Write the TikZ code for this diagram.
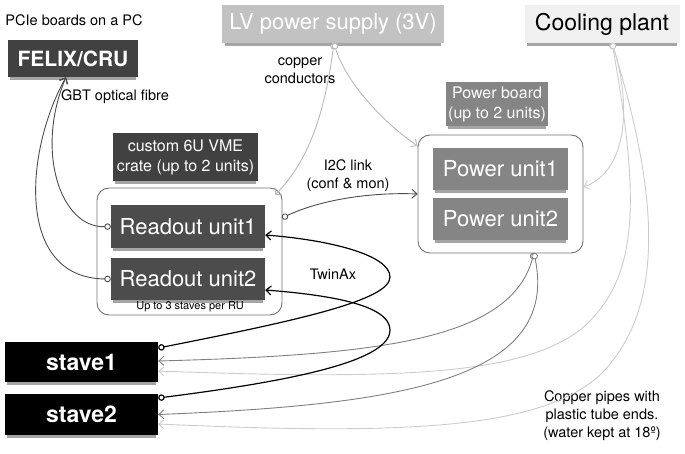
\documentclass[tikz,border=0pt]{standalone}
\usepackage{fontspec}
\setmainfont{TeX Gyre Heros}
\usetikzlibrary{arrows.meta,shadows}
\definecolor{darkbox}{HTML}{414141}
\definecolor{robox}{HTML}{4C4C4C}
\definecolor{midbox}{HTML}{858585}
\definecolor{lvbox}{HTML}{C2C2C2}
\definecolor{coolbox}{HTML}{F0F0F0}
\begin{document}
\begin{tikzpicture}[x=1pt,y=-1pt,line join=round,line cap=round,
	big/.style={font=\fontsize{22}{24}\selectfont},
	mid/.style={font=\fontsize{16}{20}\selectfont,align=center},
	txt/.style={font=\fontsize{14.5}{18}\selectfont,align=center},
	box/.style={rectangle,inner sep=0pt,text=white,drop shadow={shadow xshift=0pt,shadow yshift=-4pt,shadow scale=.97,fill=black!70,opacity=.5}},
	crate/.style={draw=black!55,line width=.9pt,rounded corners=12pt,fill=white,inner sep=0pt},
	link/.style={line width=.9pt,{Circle[open,length=6.5pt,fill=white]}-{Straight Barb[length=5pt,width=9pt]}}]
	\useasboundingbox (0,0) rectangle (685,454);
	% top row
	\node[txt] (pcie) at (74,20) {PCIe boards on a PC};
	\node[box,fill=darkbox,big,font=\bfseries\fontsize{21}{24}\selectfont,minimum width=130pt,minimum height=37pt] (felix) at (73,58.5) {FELIX/CRU};
	\node[txt] (gbt) at (115,97) {GBT optical fibre};
	\node[box,fill=lvbox,big,minimum width=222pt,minimum height=38pt] (lv) at (333,24) {LV power supply (3V)};
	\node[txt] (copper) at (300,71) {copper\\conductors};
	\node[box,fill=coolbox,text=black,font=\fontsize{23}{25}\selectfont,minimum width=155pt,minimum height=38pt] (cool) at (602,24) {Cooling plant};
	% readout crate
	\node[crate,minimum width=185pt,minimum height=127pt] (rocrate) at (189.5,251.5) {};
	\node[box,fill=darkbox,mid,minimum width=145pt,minimum height=48pt] (vme) at (185.5,157) {custom 6U VME\\crate (up to 2 units)};
	\node[box,fill=robox,big,minimum width=154pt,minimum height=43pt] (ru1) at (188,226.5) {Readout unit1};
	\node[box,fill=robox,big,minimum width=154pt,minimum height=42pt] (ru2) at (188,279) {Readout unit2};
	\node[font=\fontsize{11}{13}\selectfont] (rulabel) at (190,307) {Up to 3 staves per RU};
	% power board
	\node[crate,minimum width=165pt,minimum height=118pt] (pwcrate) at (500.5,194) {};
	\node[box,fill=midbox,mid,minimum width=102pt,minimum height=44pt] (pwlabel) at (497,104) {Power board\\(up to 2 units)};
	\node[box,fill=midbox,big,minimum width=135pt,minimum height=42pt] (pu1) at (500.5,169) {Power unit1};
	\node[box,fill=midbox,big,minimum width=135pt,minimum height=42pt] (pu2) at (500.5,219) {Power unit2};
	% staves
	\node[box,fill=black,font=\bfseries\fontsize{23}{25}\selectfont,minimum width=153pt,minimum height=40pt] (stave1) at (81.5,362) {stave1};
	\node[box,fill=black,font=\bfseries\fontsize{23}{25}\selectfont,minimum width=153pt,minimum height=41pt] (stave2) at (81.5,414.5) {stave2};
	\node[txt] (twinax) at (333,274) {TwinAx};
	\node[txt] (i2c) at (348,176) {I2C link\\(conf \& mon)};
	\node[txt] (pipes) at (602,416) {Copper pipes with\\plastic tube ends.\\(water kept at 18º)};
	% connector ends
	\coordinate (i2cout) at (282,218);
	\coordinate (pwout) at (534,253);
	\coordinate (lvout) at (334,43);
	\coordinate (coolout) at (612,43);
	% optical fibres
	\draw[link,draw=black!70] (ru1.west) .. controls (60,228) and (35,150) .. ([xshift=-7pt]felix.south);
	\draw[link,draw=black!70] (ru2.west) .. controls (15,278) and (25,150) .. ([xshift=-7pt]felix.south);
	% i2c
	\draw[link,draw=black!70] (i2cout) .. controls (320,200) and (370,192) .. (pwcrate.west);
	% low voltage
	\draw[link,draw=black!28] (lvout) .. controls (325,110) and (310,160) .. (275,195);
	\draw[link,draw=black!28] (lvout) .. controls (345,80) and (380,120) .. ([yshift=48pt]pwcrate.west);
	% cooling
	\draw[link,draw=black!20] (coolout) .. controls (630,100) and (630,170) .. ([yshift=7pt]pwcrate.east);
	\draw[link,draw=black!20] (coolout) .. controls (640,200) and (640,280) .. (580,330) .. controls (520,375) and (400,380) .. ([yshift=-9pt]stave1.east);
	\draw[link,draw=black!20] (coolout) .. controls (660,200) and (665,310) .. (600,375) .. controls (540,430) and (400,435) .. ([yshift=-9.5pt]stave2.east);
	% power to staves
	\draw[link,draw=black!50] (pwout) .. controls (510,340) and (380,355) .. ([yshift=1pt]stave1.east);
	\draw[link,draw=black!50] (pwout) .. controls (560,380) and (400,405) .. (stave2.east);
	% twinax
	\draw[link,draw=black,line width=1.2pt] ([yshift=14pt]stave1.east) .. controls (300,320) and (390,300) .. (390,277) .. controls (390,255) and (330,240) .. ([yshift=-8.5pt]ru1.east);
	\draw[link,draw=black,line width=1.2pt] ([yshift=16.5pt]stave2.east) .. controls (300,380) and (390,360) .. (390,330) .. controls (390,305) and (330,295) .. ([yshift=-11pt]ru2.east);
\end{tikzpicture}
\end{document}
